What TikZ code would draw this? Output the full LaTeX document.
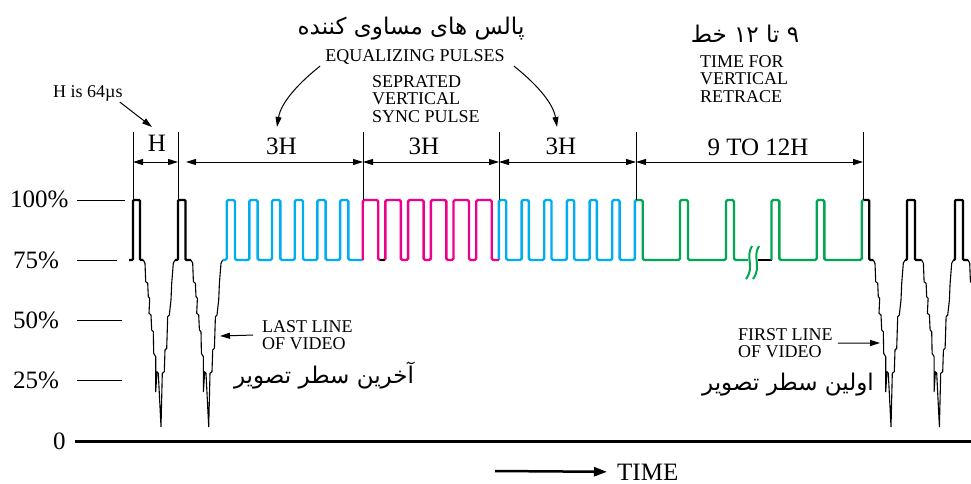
\documentclass[tikz,border=0pt]{standalone}
\usepackage{fontspec}
\setmainfont{Liberation Serif}
\newfontfamily\farsi[Script=Arabic]{DejaVu Sans}
\TeXXeTstate=1
\usetikzlibrary{arrows.meta}
\definecolor{eqblue}{RGB}{0,174,239}
\definecolor{syncmag}{RGB}{236,0,140}
\definecolor{retgreen}{RGB}{0,166,81}
\newcommand{\lbl}{\fontsize{25}{28}\selectfont}
\newcommand{\note}{\fontsize{18}{17.5}\selectfont}
\newcommand{\fa}{\farsi\fontsize{23}{26}\selectfont}
\begin{document}
\begin{tikzpicture}[x=1pt,y=-1pt,
  >={Triangle[length=10pt,width=6pt]},
  sync/.style={line width=2.2pt,rounded corners=1pt},
  video/.style={line width=1.1pt,line join=round},
  eq/.style={eqblue,line width=2.4pt,rounded corners=1.5pt},
  vs/.style={syncmag,line width=2.4pt,rounded corners=1.5pt},
  ret/.style={retgreen,line width=2.4pt,rounded corners=1.5pt},
  ext/.style={line width=0.9pt},
  dim/.style={<->,line width=1pt},
  every node/.style={inner sep=0pt}]
\useasboundingbox (0,0) rectangle (971,484);
\clip (0,0) rectangle (971,484);

% levels
\foreach \y/\e in {200/125,260/117,320/122,380/122}
  \draw[line width=1pt] (77,\y) -- (\e,\y);
\node[anchor=base west,font=\lbl] (p100) at (10,207) {100\%};
\node[anchor=base west,font=\lbl] (p75) at (13,268) {75\%};
\node[anchor=base west,font=\lbl] (p50) at (13,328) {50\%};
\node[anchor=base west,font=\lbl] (p25) at (13,388) {25\%};
\node[anchor=base west,font=\lbl] (p0) at (53,449) {0};
\draw[line width=3pt] (75,441) -- (971,441);

% lines of video
\foreach \s in {143.3,191,873.3,921.7,968}
  \draw[video,shift={(\s,0)}] plot coordinates {(0,260) (1.7,263.3) (2.4,281.7)
    (4.4,283.3) (5,296.7) (6.4,298.3) (5.7,313.3) (7.7,315) (8.4,330) (10,331.7)
    (10.4,353.3) (12.4,356.7) (12.4,391.7) (13.7,371.7) (15,373.3) (17.7,426.7)
    (19,373.3) (21,371.7) (21.7,350) (23.4,348.3) (24.4,316.7) (26,315) (27.7,300)
    (28.4,283.3) (30,263.3) (31.7,260)};

% horizontal sync
\draw[sync] (129,260) -- (133,260) -- (133,200) -- (140,200) -- (140,260) -- (143.3,260);
\draw[sync] (175,260) -- (178,260) -- (178,200) -- (185.5,200) -- (185.5,260) -- (191,260);
\draw[sync] (863,200) -- (869.3,200) -- (869.3,260) -- (873.3,260);
\draw[sync] (905,260) -- (907,260) -- (907,200) -- (915,200) -- (915,260) -- (921.7,260);
\draw[sync] (953.4,260) -- (955,260) -- (955,200) -- (963,200) -- (963,260) -- (968,260);

% equalizing pulses
\draw[eq] (222.7,260) -- (226.7,260) \foreach \k in {1,...,6} {
  -- ++(0,-60) -- ++(8.3,0) -- ++(0,60) -- ++(14.37,0)};
\draw[eq] (498.9,260) \foreach \k in {1,...,6} {
  -- ++(0,-60) -- ++(7.3,0) -- ++(0,60) -- ++(15.37,0)} -- ++(0,-60) -- ++(1.5,0);

% vertical sync
\draw[vs] (362.7,260) \foreach \k in {1,...,6} {
  -- ++(0,-60) -- ++(15.5,0) -- ++(0,60) -- ++(7.2,0)};
\draw[sync] (379.5,260) -- (384.5,260);

% vertical retrace
\draw[ret] (636.4,200) -- (642.7,200) -- (642.7,260) -- (680,260) -- (680,200)
  -- (688,200) -- (688,260) -- (726,260) -- (726,200) -- (734,200) -- (734,260) -- (748,260);
\draw[sync] (758,260) -- (771.5,260);
\draw[ret] (771.5,260) -- (771.5,200) -- (779.3,200) -- (779.3,260) -- (816.7,260)
  -- (816.7,200) -- (824.3,200) -- (824.3,260) -- (861.7,260) -- (861.7,200) -- (864,200);
\foreach \d in {0,7}
  \draw[retgreen,line width=2pt] (752+\d,246) .. controls (745+\d,257) and (755+\d,267) .. (746+\d,279);

% dimensions
\foreach \x/\n in {133/da,178/db,363/dc,499/dd,636/de,863/df} {
  \draw[ext] (\x,132) -- (\x,200);
  \coordinate (\n) at (\x,162);}
\coordinate (d0) at (186,162);
\draw[dim] (da) -- (db);
\draw[dim] (d0) -- (dc);
\draw[dim] (dc) -- (dd);
\draw[dim] (dd) -- (de);
\draw[dim] (de) -- (df);
\node[anchor=base,font=\lbl] (hh) at (157,151) {H};
\node[anchor=base,font=\lbl] (h3a) at (281.5,154) {3H};
\node[anchor=base,font=\lbl] (h3b) at (424,154) {3H};
\node[anchor=base,font=\lbl] (h3c) at (561,154) {3H};
\node[anchor=base,font=\lbl] (h912) at (758,155) {9 TO 12H};

% notes
\node[anchor=base west,font=\note] (hnote) at (53,98) {H is 64µs};
\coordinate (hpt) at (152,127);
\draw[->,line width=1pt] ([xshift=-3pt]hnote.south east) -- (hpt);

\node[font=\fa] (eqfa) at (411,29) {\beginR پالس های مساوی کننده\endR};
\node[anchor=base,font=\note] (eq) at (415,62) {EQUALIZING PULSES};
\coordinate (eqa) at (277,127);
\coordinate (eqb) at (557,127);
\draw[->,line width=1pt] ([shift={(-5,1)}]eq.south west) .. controls (300,82) and (281,102) .. (eqa);
\draw[->,line width=1pt] ([shift={(9,1)}]eq.south east) .. controls (534,82) and (553,102) .. (eqb);

\node[anchor=north west,font=\note,align=left] (vsync) at (372,75) {SEPRATED\\VERTICAL\\SYNC PULSE};

\node[font=\fa] (retfa) at (745,34) {\beginR ۹ تا ۱۲ خط\endR};
\node[anchor=north west,font=\note,align=left] (retr) at (700,55) {TIME FOR\\VERTICAL\\RETRACE};

\node[anchor=north west,font=\note,align=left] (last) at (262,320) {LAST LINE\\OF VIDEO};
\coordinate (lastpt) at (220,336);
\draw[->,line width=1pt] ([xshift=-9pt]last.west) -- (lastpt);
\node[font=\fa] (lastfa) at (324,376) {\beginR آخرین سطر تصویر\endR};

\node[anchor=north west,font=\note,align=left] (first) at (738,328) {FIRST LINE\\OF VIDEO};
\coordinate (firstpt) at (880,343);
\draw[->,line width=1pt] ([xshift=5pt]first.east) -- (firstpt);
\node[font=\fa] (firstfa) at (788,385) {\beginR اولین سطر تصویر\endR};

% time axis
\node[anchor=base west,font=\lbl] (time) at (617,480) {TIME};
\coordinate (ts) at (495,471);
\draw[-{Triangle[length=13pt,width=9pt]},line width=2.5pt] (ts) -- ([xshift=-10pt]time.west);
\end{tikzpicture}
\end{document}
